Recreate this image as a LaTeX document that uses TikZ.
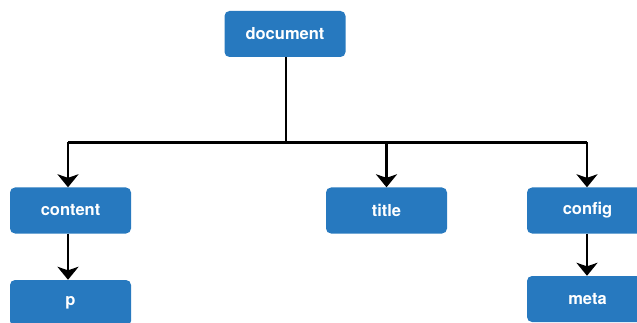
\documentclass[tikz,border=0pt]{standalone}
\usepackage{fontspec}
\setmainfont{TeX Gyre Heros}
\usetikzlibrary{arrows.meta}
\definecolor{boxblue}{RGB}{39,121,191}
\begin{document}
\begin{tikzpicture}[x=1pt,y=-1pt,
  box/.style={draw=none,fill=boxblue,rounded corners=5pt,minimum width=121pt,minimum height=46pt,inner sep=0pt,text=white,font=\fontsize{16.5}{16.5}\selectfont\bfseries},
  conn/.style={line width=2.3pt,black},
  arr/.style={conn,-{Stealth[length=13pt,width=21pt,inset=3.5pt]}}]
\useasboundingbox (0,0) rectangle (637,323);
\node[box] (document) at (285,34) {document};
\node[box] (content) at (70.5,210.5) {content};
\node[box] (title) at (386.5,210.5) {title};
\node[box] (config) at (587.5,210.5) {config};
\node[box] (p) at (70.5,303) {p};
\node[box] (meta) at (587.5,299) {meta};
\coordinate (hub) at (286,142.5);
\coordinate (hl) at (68,142.5);
\coordinate (hr) at (587,142.5);
\draw[conn] (document.south -| hub) -- (hub);
\draw[conn] (hl) -- (hr);
\draw[arr] (hl) -- (hl |- content.north);
\draw[arr] (title.north |- hub) -- (title.north);
\draw[arr] (hr) -- (hr |- config.north);
\draw[arr] (content.south -| hl) -- (hl |- p.north);
\draw[arr] (config.south -| hr) -- (hr |- meta.north);
\end{tikzpicture}
\end{document}
